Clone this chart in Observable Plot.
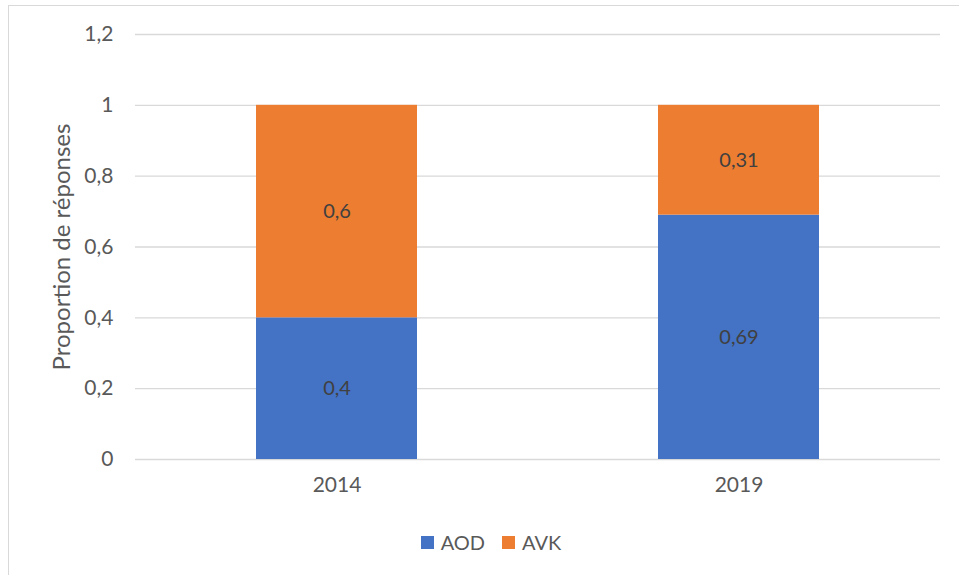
<!DOCTYPE html>
<html>
<head>
<meta charset="utf-8">
<script src="https://cdn.jsdelivr.net/npm/d3@7"></script>
<script src="https://cdn.jsdelivr.net/npm/@observablehq/plot@0.6"></script>
<style>
  html, body { margin: 0; padding: 0; background: #fff; overflow: hidden; }
  body { width: 959px; height: 575px; position: relative; font-family: Lato, "Open Sans", sans-serif; }
  #frame { position: absolute; left: 8px; top: 5px; width: 970px; height: 590px; border: 1.5px solid #D9D9D9; box-sizing: border-box; }
  #chart { position: absolute; left: 0; top: 0; }
  #legend { position: absolute; left: 0; top: 530px; width: 982px; display: flex; justify-content: center; gap: 17px; font-size: 20px; color: #595959; }
  .item { display: flex; align-items: center; gap: 7px; }
  .sw { width: 13px; height: 13px; display: inline-block; }
</style>
</head>
<body>
<div id="frame"></div>
<div id="chart"></div>
<div id="legend"></div>
<script>
const years = ["2014", "2019"];
const series = ["AOD", "AVK"];
const aodValues = [0.4, 0.69];
const avkValues = [0.6, 0.31];
const colors = ["#4472C4", "#ED7D31"];
const yTicks = [0, 0.2, 0.4, 0.6, 0.8, 1, 1.2];

const rows = [];
years.forEach((y, i) => {
  rows.push({year: y, series: "AOD", value: aodValues[i]});
  rows.push({year: y, series: "AVK", value: avkValues[i]});
});
const fmt = d => String(d).replace(".", ",");

const chart = Plot.plot({
  width: 959,
  height: 500,
  marginLeft: 135,
  marginRight: 19,
  marginTop: 34,
  marginBottom: 41,
  style: {fontFamily: "Lato, 'Open Sans', sans-serif", fontSize: "21px", color: "#595959", background: "transparent"},
  x: {domain: years, paddingInner: 0.6, paddingOuter: 0.3, label: null, tickSize: 0, tickPadding: 16},
  y: {domain: [0, 1.2], ticks: yTicks, tickFormat: fmt, label: null, tickSize: 0, tickPadding: 22},
  color: {domain: series, range: colors},
  marks: [
    Plot.gridY(yTicks, {stroke: "#D9D9D9", strokeOpacity: 1, strokeWidth: 1.3}),
    Plot.barY(rows, {x: "year", y: "value", fill: "series", order: series}),
    Plot.text(rows, Plot.stackY({x: "year", y: "value", z: "series", order: series, text: d => fmt(d.value), fill: "#404040", fontSize: 20})),
    Plot.axisY({ticks: yTicks, tickFormat: fmt, tickSize: 0, tickPadding: 22, fontSize: 21, label: null}),
    Plot.axisX({tickSize: 0, tickPadding: 18, fontSize: 21, label: null}),
    Plot.text(["Proportion de réponses"], {frameAnchor: "left", textAnchor: "middle", dx: -73, rotate: -90, fontSize: 24, fill: "#595959"})
  ]
});
document.getElementById("chart").appendChild(chart);

const legend = document.getElementById("legend");
series.forEach((s, i) => {
  const it = document.createElement("div");
  it.className = "item";
  it.innerHTML = `<span class="sw" style="background:${colors[i]}"></span><span>${s}</span>`;
  legend.appendChild(it);
});
</script>
</body>
</html>
